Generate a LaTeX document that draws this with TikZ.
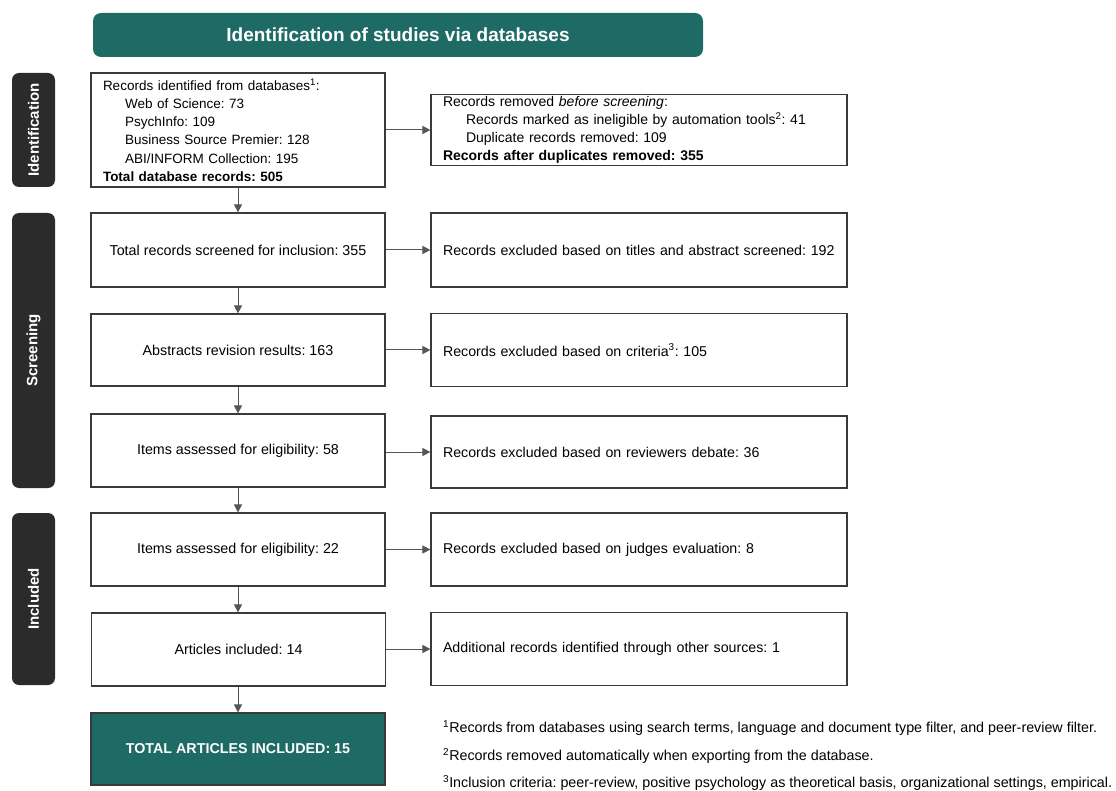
\documentclass[tikz,border=0pt]{standalone}
\usepackage{fontspec}
\setmainfont{Liberation Sans}
\usetikzlibrary{arrows.meta}
\definecolor{teal1}{HTML}{1E6B66}
\definecolor{darklab}{HTML}{2B2B2B}
\definecolor{boxline}{HTML}{3A3A3A}
\definecolor{conn}{HTML}{555555}
\begin{document}
\frenchspacing
\begin{tikzpicture}[x=1pt,y=-1pt,
  lbox/.style={draw=boxline, line width=1.2pt, fill=white, minimum width=294pt, inner sep=0pt, align=center, font=\fontsize{14.3}{17}\selectfont},
  rbox/.style={draw=boxline, line width=1.2pt, fill=white, text width=392pt, inner xsep=12pt, inner ysep=0pt, align=left, font=\fontsize{14.2}{17}\selectfont},
  side/.style={fill=darklab, rounded corners=7pt, minimum height=43pt, inner sep=0pt, rotate=90, text=white, font=\fontsize{15}{18}\selectfont\bfseries},
  arr/.style={draw=conn, line width=1pt, -{Triangle[length=8pt,width=8pt]}},
  fn/.style={anchor=west, inner sep=0pt, font=\fontsize{14.3}{17}\selectfont}
]
\useasboundingbox (0,0) rectangle (1116,791);
\fill[white] (0,0) rectangle (1116,791);

% title
\node[fill=teal1, rounded corners=8pt, minimum width=610pt, minimum height=44pt, inner sep=0pt, text=white, font=\fontsize{19}{22}\selectfont\bfseries] (title) at (398,35) {Identification of studies via databases};

% side labels
\node[side, minimum width=114pt] (sid) at (33.5,130) {Identification};
\node[side, minimum width=275pt] (sscr) at (33.5,350.5) {Screening};
\node[side, minimum width=172pt] (sinc) at (33.5,599) {Included};

% left column
\node[lbox, minimum height=114pt, text width=270pt, align=left, font=\fontsize{13.5}{18.2}\selectfont] (b1) at (238,130) {Records identified from databases\textsuperscript{1}:\\
\hspace*{22pt}Web of Science: 73\\
\hspace*{22pt}PsychInfo: 109\\
\hspace*{22pt}Business Source Premier: 128\\
\hspace*{22pt}ABI/INFORM Collection: 195\\
\textbf{Total database records: 505}};
\node[lbox, minimum height=74pt] (b2) at (238,250) {Total records screened for inclusion: 355};
\node[lbox, minimum height=72pt] (b3) at (238,350) {Abstracts revision results: 163};
\node[lbox, minimum height=73pt] (b4) at (238,450.5) {Items assessed for eligibility: 58};
\node[lbox, minimum height=73pt] (b5) at (238,549.5) {Items assessed for eligibility: 22};
\node[lbox, minimum height=73pt] (b6) at (238.5,649.5) {Articles included: 14};
\node[lbox, fill=teal1, minimum height=72pt, text=white, font=\fontsize{14.3}{17}\selectfont\bfseries] (tot) at (238,749) {TOTAL ARTICLES INCLUDED: 15};

% right column
\node[rbox, minimum height=71pt, font=\fontsize{14}{18}\selectfont] (r1) at (639,130) {Records removed \textit{before screening}:\\
\hspace*{23pt}Records marked as ineligible by automation tools\textsuperscript{2}: 41\\
\hspace*{23pt}Duplicate records removed: 109\\
\textbf{Records after duplicates removed: 355}};
\node[rbox, minimum height=74pt] (r2) at (639,250) {Records excluded based on titles and abstract screened: 192};
\node[rbox, minimum height=73pt] (r3) at (639,350) {Records excluded based on criteria\textsuperscript{3}: 105};
\node[rbox, minimum height=72pt] (r4) at (639,452) {Records excluded based on reviewers debate: 36};
\node[rbox, minimum height=73pt] (r5) at (639,549.5) {Records excluded based on judges evaluation: 8};
\node[rbox, minimum height=73pt] (r6) at (639,649) {Additional records identified through other sources: 1};

% vertical connectors
\draw[arr] (b1.south) -- (b2.north);
\draw[arr] (b2.south) -- (b3.north);
\draw[arr] (b3.south) -- (b4.north);
\draw[arr] (b4.south) -- (b5.north);
\draw[arr] (b5.south) -- (b6.north -| b5.south);
\draw[arr] (b6.south -| b5.south) -- (tot.north);

% horizontal connectors
\draw[arr] (b1.east) -- (r1.west);
\draw[arr] (b2.east) -- (r2.west);
\draw[arr] (b3.east) -- (r3.west);
\draw[arr] (b4.east |- r4.west) -- (r4.west);
\draw[arr] (b5.east) -- (r5.west);
\draw[arr] (b6.east |- r6.west) -- (r6.west);

% footnotes
\node[fn] (f1) at (443,728) {\textsuperscript{1}Records from databases using search terms, language and document type filter, and peer-review filter.};
\node[fn] (f2) at (443,756) {\textsuperscript{2}Records removed automatically when exporting from the database.};
\node[fn] (f3) at (443,783) {\textsuperscript{3}Inclusion criteria: peer-review, positive psychology as theoretical basis, organizational settings, empirical.};
\end{tikzpicture}
\end{document}
